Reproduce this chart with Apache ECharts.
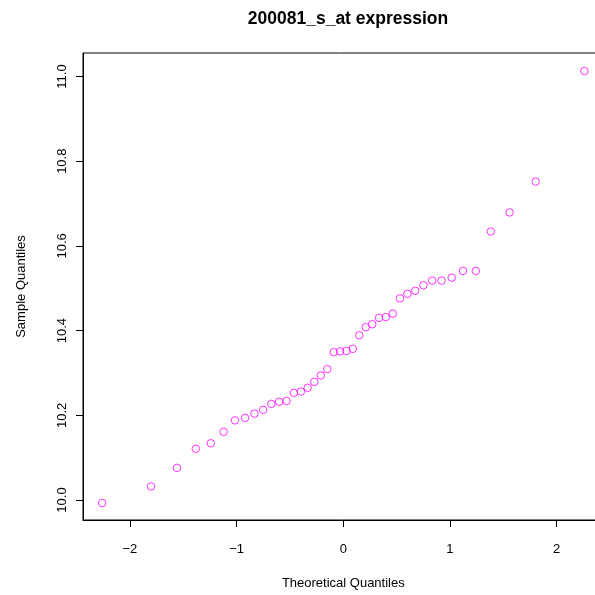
<!DOCTYPE html>
<html>
<head>
<meta charset="utf-8">
<title>200081_s_at expression</title>
<script src="https://cdn.jsdelivr.net/npm/echarts@6/dist/echarts.min.js"></script>
<style>
  html, body { margin: 0; padding: 0; background: #ffffff; }
  #chart { width: 595px; height: 595px; }
</style>
</head>
<body>
<div id="chart"></div>
<script>
// Normal Q-Q plot: theoretical normal quantiles vs. sorted sample values (n = 42)
var theoretical = [
  -2.2600, -1.8028, -1.5588, -1.3830, -1.2419, -1.1219, -1.0162, -0.9208,
  -0.8332, -0.7515, -0.6745, -0.6013, -0.5313, -0.4637, -0.3982, -0.3344,
  -0.2719, -0.2104, -0.1498, -0.0896, -0.0298,
   0.0298,  0.0896,  0.1498,  0.2104,  0.2719,  0.3344,  0.3982,  0.4637,
   0.5313,  0.6013,  0.6745,  0.7515,  0.8332,  0.9208,  1.0162,  1.1219,
   1.2419,  1.3830,  1.5588,  1.8028,  2.2600
];
var sample = [
   9.993, 10.032, 10.076, 10.121, 10.134, 10.161, 10.188, 10.194,
  10.204, 10.213, 10.227, 10.232, 10.234, 10.253, 10.256, 10.265,
  10.279, 10.294, 10.309, 10.349, 10.351,
  10.352, 10.357, 10.389, 10.408, 10.415, 10.430, 10.432, 10.440,
  10.476, 10.487, 10.494, 10.507, 10.518, 10.518, 10.525, 10.541,
  10.541, 10.634, 10.679, 10.752, 11.013
];
var xTicks = [-2, -1, 0, 1, 2];
var yTicks = [10.0, 10.2, 10.4, 10.6, 10.8, 11.0];
var xRange = [-2.44, 2.44];
var yRange = [9.9528, 11.0555];

var points = theoretical.map(function (t, i) { return [t, sample[i]]; });

var FONT = '"Liberation Sans", Arial, Helvetica, sans-serif';

var chart = echarts.init(document.getElementById('chart'), null, { renderer: 'canvas' });
chart.setOption({
  backgroundColor: '#ffffff',
  animation: false,
  title: {
    text: '200081_s_at expression',
    left: 343,
    top: 5,
    textAlign: 'center',
    textStyle: { fontFamily: FONT, fontSize: 17.5, fontWeight: 'bold', color: '#000' }
  },
  // plot box runs past the right edge of the canvas
  grid: {
    left: 83, top: 53, right: -8.6, bottom: 75,
    outerBoundsMode: 'none',
    containLabel: false,
    show: true, borderColor: '#000', borderWidth: 1, backgroundColor: 'transparent'
  },
  xAxis: {
    type: 'value',
    min: xRange[0], max: xRange[1],
    name: 'Theoretical Quantiles',
    nameLocation: 'middle',
    nameGap: 57,
    nameTextStyle: { fontFamily: FONT, fontSize: 13, color: '#000' },
    axisLine: { show: true, onZero: false, lineStyle: { color: '#000', width: 1 } },
    axisTick: { show: true, length: 7, customValues: xTicks, lineStyle: { color: '#000', width: 1 } },
    axisLabel: {
      customValues: xTicks,
      margin: 23,
      fontFamily: FONT, fontSize: 13, color: '#000',
      formatter: function (v) { return v < 0 ? '\u2212' + Math.abs(v) : String(v); }
    },
    splitLine: { show: false }
  },
  yAxis: {
    type: 'value',
    min: yRange[0], max: yRange[1],
    name: 'Sample Quantiles',
    nameLocation: 'middle',
    nameGap: 55,
    nameTextStyle: { fontFamily: FONT, fontSize: 13, color: '#000' },
    axisLine: { show: true, onZero: false, lineStyle: { color: '#000', width: 1 } },
    axisTick: { show: true, length: 7, customValues: yTicks, lineStyle: { color: '#000', width: 1 } },
    axisLabel: {
      customValues: yTicks,
      rotate: 90,
      margin: 14,
      fontFamily: FONT, fontSize: 13, color: '#000',
      formatter: function (v) { return v.toFixed(1); }
    },
    splitLine: { show: false }
  },
  series: [{
    type: 'scatter',
    data: points,
    symbol: 'circle',
    symbolSize: 7.5,
    itemStyle: { color: 'rgba(0,0,0,0)', borderColor: '#ff00ff', borderWidth: 1 }
  }]
});
</script>
</body>
</html>
